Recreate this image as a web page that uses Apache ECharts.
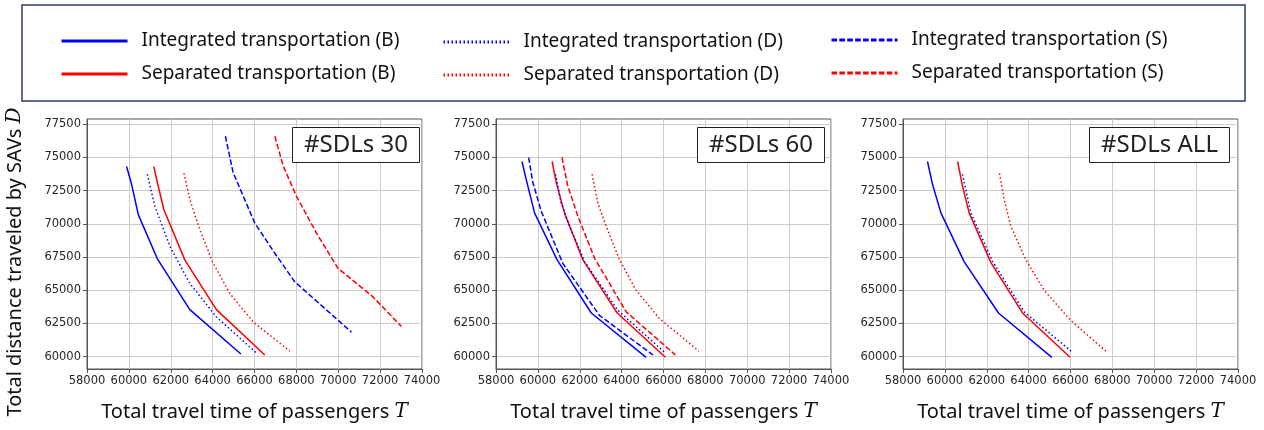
<!DOCTYPE html>
<html>
<head>
<meta charset="utf-8">
<script src="https://cdn.jsdelivr.net/npm/echarts@6/dist/echarts.min.js"></script>
<style>
  html, body { margin: 0; padding: 0; background: #fff; }
  #chart { width: 1264px; height: 430px; }
</style>
</head>
<body>
<div id="chart"></div>
<script>
// axis ticks
const xTicks = [58000, 60000, 62000, 64000, 66000, 68000, 70000, 72000, 74000]
const yTicks = [60000, 62500, 65000, 67500, 70000, 72500, 75000, 77500]
const panelLabels = ['#SDLs 30', '#SDLs 60', '#SDLs ALL']

// #SDLs 30  [T, D]
const sdl30IntB = [[59890, 74320], [60130, 72980], [60450, 70700], [61370, 67340], [62910, 63540], [65350, 60200]]
const sdl30SepB = [[61190, 74320], [61400, 72850], [61670, 71080], [62670, 67290], [64180, 63540], [66490, 60130]]
const sdl30IntD = [[60880, 73740], [61240, 71330], [61960, 68300], [62910, 65520], [64180, 62990], [66090, 60280]]
const sdl30SepD = [[62630, 73810], [62910, 71840], [63390, 69560], [63990, 67160], [64820, 64760], [65940, 62610], [67690, 60410]]
const sdl30IntS = [[64610, 76600], [64980, 73860], [66010, 70070], [66970, 67790], [67920, 65640], [70630, 61850]]
const sdl30SepS = [[66970, 76600], [67370, 74370], [68000, 72090], [68960, 69310], [69990, 66650], [71660, 64500], [73010, 62280]]

// #SDLs 60
const sdl60IntB = [[59240, 74700], [59480, 73110], [59840, 70830], [60920, 67290], [62550, 63290], [65170, 59950]]
const sdl60SepB = [[60680, 74700], [60880, 73110], [61270, 70830], [62150, 67290], [63790, 63290], [66090, 59950]]
const sdl60IntD = [[60840, 73740], [61110, 71590], [61510, 69820], [62230, 67160], [63820, 63490], [66050, 60330]]
const sdl60SepD = [[62590, 73740], [62860, 71590], [63260, 69820], [63900, 67290], [64690, 65010], [65810, 62860], [67690, 60410]]
const sdl60IntS = [[59560, 75000], [59760, 73110], [60160, 70960], [61190, 67030], [62940, 63110], [65490, 60130]]
const sdl60SepS = [[61150, 75000], [61430, 72850], [61910, 70580], [62710, 67410], [64220, 63370], [66570, 60130]]

// #SDLs ALL
const sdlAllIntB = [[59170, 74700], [59410, 72980], [59810, 70830], [60920, 67160], [62560, 63290], [65110, 59950]]
const sdlAllSepB = [[60610, 74700], [60840, 72850], [61160, 70830], [62200, 67080], [63710, 63290], [65980, 59950]]
const sdlAllIntD = [[60840, 73740], [61240, 70830], [62280, 67160], [63790, 63370], [66090, 60330]]
const sdlAllSepD = [[62610, 73810], [62830, 71840], [63150, 69820], [63870, 67290], [64740, 65010], [66010, 62730], [67690, 60410]]

const names = {
  intB: 'Integrated transportation (B)',
  sepB: 'Separated transportation (B)',
  intD: 'Integrated transportation (D)',
  sepD: 'Separated transportation (D)',
  intS: 'Integrated transportation (S)',
  sepS: 'Separated transportation (S)'
}

const BLUE = '#0000ff'
const RED = '#ff0000'
const DOTTED = [1.5, 2.5]
const DASHED = [5.5, 2.4]

const panels = [
  { intB: sdl30IntB, sepB: sdl30SepB, intD: sdl30IntD, sepD: sdl30SepD, intS: sdl30IntS, sepS: sdl30SepS },
  { intB: sdl60IntB, sepB: sdl60SepB, intD: sdl60IntD, sepD: sdl60SepD, intS: sdl60IntS, sepS: sdl60SepS },
  { intB: sdlAllIntB, sepB: sdlAllSepB, intD: sdlAllIntD, sepD: sdlAllSepD }
]
const styleOf = {
  intB: [BLUE, 'solid'], sepB: [RED, 'solid'],
  intD: [BLUE, DOTTED], sepD: [RED, DOTTED],
  intS: [BLUE, DASHED], sepS: [RED, DASHED]
}

const gridLefts = [87, 496, 903]
const boxLefts = [292, 697, 1089]

const grids = gridLefts.map(l => ({
  left: l, top: 119, width: 335, height: 250,
  show: true, borderColor: '#555', borderWidth: 1, backgroundColor: '#fff'
}))

const labelFont = { color: '#262626', fontSize: 11.5, fontFamily: 'DejaVu Sans', formatter: v => String(v) }

const xAxes = gridLefts.map((l, i) => ({
  type: 'value', gridIndex: i, min: 58000, max: 74000, interval: 2000,
  axisLine: { show: true, lineStyle: { color: '#555' } },
  axisTick: { show: true, inside: false, length: 4, lineStyle: { color: '#555' } },
  axisLabel: Object.assign({ margin: 6, showMinLabel: true, showMaxLabel: true, customValues: xTicks }, labelFont),
  splitLine: { show: true, lineStyle: { color: '#cccccc', width: 1 } },
  name: 'Total travel time of passengers {i|T}',
  nameLocation: 'middle',
  nameGap: 33,
  nameTextStyle: {
    fontSize: 20, fontFamily: 'Noto Sans', color: '#111',
    rich: { i: { fontSize: 20, fontStyle: 'italic', fontFamily: 'DejaVu Serif', color: '#111' } }
  }
}))

const yAxes = gridLefts.map((l, i) => ({
  type: 'value', gridIndex: i, min: 59070, max: 77900,
  axisLine: { show: true, lineStyle: { color: '#555' } },
  axisTick: { show: true, inside: false, length: 4, customValues: yTicks, lineStyle: { color: '#555' } },
  axisLabel: Object.assign({ margin: 6, customValues: yTicks }, labelFont),
  splitLine: { show: true, lineStyle: { color: '#cccccc', width: 1 } }
}))

const series = []
panels.forEach((p, i) => {
  Object.keys(p).forEach(k => {
    series.push({
      name: names[k],
      type: 'line',
      xAxisIndex: i,
      yAxisIndex: i,
      data: p[k],
      symbol: 'none',
      silent: true,
      lineStyle: { color: styleOf[k][0], width: 1.5, type: styleOf[k][1] },
      itemStyle: { color: styleOf[k][0] }
    })
  })
})

const titles = panelLabels.map((t, i) => ({
  text: t,
  left: boxLefts[i],
  top: 127,
  borderColor: '#222',
  borderWidth: 1,
  backgroundColor: '#fff',
  padding: [5, 12],
  textStyle: { fontSize: 24, fontWeight: 'normal', fontFamily: 'Noto Sans', color: '#222', lineHeight: 26 }
}))

const legendCol = (left, top, data) => ({
  orient: 'vertical',
  left: left,
  top: top,
  itemWidth: 66,
  itemHeight: 14,
  itemGap: 13,
  data: data,
  selectedMode: false,
  lineStyle: { width: 3 },
  itemStyle: { opacity: 0 },
  textStyle: { fontSize: 19, fontFamily: 'Noto Sans', color: '#111', lineHeight: 20, padding: [0, 0, 0, 9] }
})

const chart = echarts.init(document.getElementById('chart'))
chart.setOption({
  animation: false,
  backgroundColor: '#fff',
  title: titles,
  legend: [
    legendCol(55, 26, [names.intB, names.sepB]),
    legendCol(437, 27, [names.intD, names.sepD]),
    legendCol(825, 25, [names.intS, names.sepS])
  ],
  grid: grids,
  xAxis: xAxes,
  yAxis: yAxes,
  series: series,
  graphic: [
    {
      type: 'rect',
      shape: { x: 22, y: 5, width: 1223, height: 96 },
      style: { fill: 'none', stroke: '#2e3f63', lineWidth: 1.5 },
      silent: true
    },
    {
      type: 'text',
      x: 15,
      y: 262,
      rotation: Math.PI / 2,
      style: {
        text: 'Total distance traveled by SAVs {i|D}',
        fontSize: 20,
        fontFamily: 'Noto Sans',
        fill: '#111',
        align: 'center',
        verticalAlign: 'middle',
        rich: { i: { fontSize: 20, fontStyle: 'italic', fontFamily: 'DejaVu Serif', fill: '#111' } }
      },
      silent: true
    }
  ]
})
</script>
</body>
</html>
